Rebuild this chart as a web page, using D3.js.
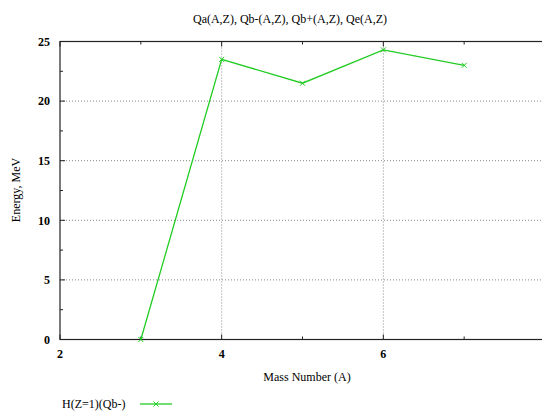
<!DOCTYPE html>
<html>
<head>
<meta charset="utf-8">
<script src="https://cdn.jsdelivr.net/npm/d3@7"></script>
<style>
  body { margin: 0; background: #fff; }
  text { font-family: 'Liberation Serif', 'DejaVu Serif', serif; fill: #000; }
</style>
</head>
<body>
<div id="chart"></div>
<script>
const massNumbers = [3, 4, 5, 6, 7]
const energies = [0, 23.5, 21.5, 24.3, 23.0]
const xTicks = [2, 4, 6, 8]
const yTicks = [0, 5, 10, 15, 20, 25]
const seriesLabel = 'H(Z=1)(Qb-)'
const title = 'Qa(A,Z), Qb-(A,Z), Qb+(A,Z), Qe(A,Z)'

const margin = { top: 41.5, left: 60, right: -3, bottom: 74.5 }
const width = 542 - margin.left - margin.right
const height = 414 - margin.top - margin.bottom
const green = '#22cc22'

const root = d3.select('#chart').append('svg')
  .attr('width', 542).attr('height', 414)
const svg = root.append('g')
  .attr('transform', `translate(${margin.left},${margin.top})`)

const x = d3.scaleLinear().domain([2, 8]).range([0, width])
const y = d3.scaleLinear().domain([0, 25]).range([height, 0])

// grid (dotted)
svg.selectAll('.gy').data(yTicks.filter(d => d > 0 && d < 25)).enter()
  .append('line')
  .attr('x1', 0).attr('x2', width)
  .attr('y1', d => y(d)).attr('y2', d => y(d))
  .attr('stroke', '#888').attr('stroke-width', 1).attr('stroke-dasharray', '1,2')
svg.selectAll('.gx').data(xTicks.filter(d => d > 2 && d < 8)).enter()
  .append('line')
  .attr('y1', 0).attr('y2', height)
  .attr('x1', d => x(d)).attr('x2', d => x(d))
  .attr('stroke', '#888').attr('stroke-width', 1).attr('stroke-dasharray', '1,2')

// border
svg.append('rect').attr('x', 0).attr('y', 0).attr('width', width).attr('height', height)
  .attr('fill', 'none').attr('stroke', '#222').attr('stroke-width', 1.2)

// ticks inside, major + minor
const yMinor = d3.range(0, 25.01, 2.5)
svg.selectAll('.ty').data(yMinor).enter().append('line')
  .attr('x1', 0).attr('x2', d => d % 5 === 0 ? 5 : 3)
  .attr('y1', d => y(d)).attr('y2', d => y(d))
  .attr('stroke', '#222')
const xMinor = d3.range(2, 8.01, 1)
svg.selectAll('.tx').data(xMinor).enter().append('line')
  .attr('x1', d => x(d)).attr('x2', d => x(d))
  .attr('y1', height).attr('y2', d => height - (d % 2 === 0 ? 5 : 3))
  .attr('stroke', '#222')
svg.selectAll('.txt').data(xMinor).enter().append('line')
  .attr('x1', d => x(d)).attr('x2', d => x(d))
  .attr('y1', 0).attr('y2', d => (d % 2 === 0 ? 5 : 3))
  .attr('stroke', '#222')

// tick labels
svg.selectAll('.ly').data(yTicks).enter().append('text')
  .attr('x', -10).attr('y', d => y(d)).attr('dy', '0.35em')
  .attr('text-anchor', 'end').attr('font-size', 12).attr('font-weight', 'bold')
  .text(d => d)
svg.selectAll('.lx').data(xTicks).enter().append('text')
  .attr('x', d => x(d)).attr('y', height + 18)
  .attr('text-anchor', 'middle').attr('font-size', 12).attr('font-weight', 'bold')
  .text(d => d)

// titles
root.append('text').attr('x', 290).attr('y', 23).attr('text-anchor', 'middle')
  .attr('font-size', 12).text(title)
root.append('text').attr('transform', 'translate(20,190) rotate(-90)')
  .attr('text-anchor', 'middle').attr('font-size', 12).text('Energy, MeV')
root.append('text').attr('x', 307).attr('y', 381).attr('text-anchor', 'middle')
  .attr('font-size', 12).text('Mass Number (A)')

// series
const pts = massNumbers.map((a, i) => [a, energies[i]])
const line = d3.line().x(d => x(d[0])).y(d => y(d[1]))
svg.append('path').datum(pts).attr('d', line)
  .attr('fill', 'none').attr('stroke', green).attr('stroke-width', 1.3)

function cross(sel, s) {
  sel.append('path')
    .attr('d', `M${-s},${-s}L${s},${s}M${-s},${s}L${s},${-s}`)
    .attr('stroke', green).attr('stroke-width', 1).attr('fill', 'none')
}
svg.selectAll('.pt').data(pts).enter().append('g')
  .attr('transform', d => `translate(${x(d[0])},${y(d[1])})`)
  .call(cross, 2.5)

// legend
const leg = root.append('g').attr('transform', 'translate(0,404)')
leg.append('text').attr('x', 62).attr('y', 0).attr('dy', '0.35em')
  .attr('font-size', 12).text(seriesLabel)
leg.append('line').attr('x1', 140).attr('x2', 172).attr('y1', 0).attr('y2', 0)
  .attr('stroke', green).attr('stroke-width', 1.3)
leg.append('g').attr('transform', 'translate(156,0)').call(cross, 2.5)
</script>
</body>
</html>
